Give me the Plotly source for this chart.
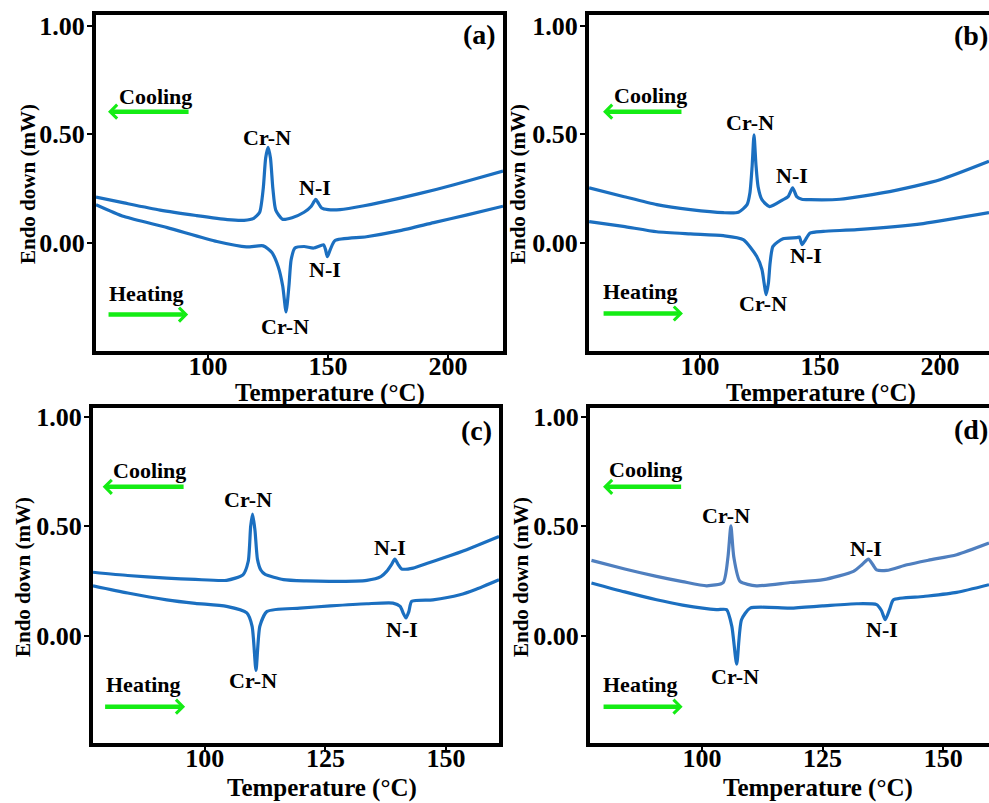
import plotly.graph_objects as go

# ---------------- data (Temperature in °C, heat flow in mW) ----------------
a_cool_T = [53.3, 65, 80, 95, 108, 115, 119, 121.5, 123.0, 124.0, 125.0, 126.0, 127.0, 128.2, 131, 135, 140, 143, 144.2, 144.9, 145.8, 147.3, 150, 155, 165, 180, 195, 210, 222.9]
a_cool_v = [0.21, 0.183, 0.15, 0.125, 0.106, 0.103, 0.112, 0.14, 0.25, 0.39, 0.44, 0.39, 0.25, 0.15, 0.108, 0.115, 0.14, 0.168, 0.19, 0.20, 0.185, 0.16, 0.152, 0.152, 0.17, 0.205, 0.245, 0.29, 0.33]
a_heat_T = [53.3, 65, 83, 103.7, 116, 123, 126.6, 129.2, 131.1, 132.5, 133.7, 134.6, 136.2, 140, 144, 148.1, 148.9, 149.7, 151.0, 152.9, 166, 180, 194, 208, 222.9]
a_heat_v = [0.175, 0.12, 0.069, 0.005, -0.02, -0.015, -0.046, -0.11, -0.2, -0.32, -0.2, -0.08, -0.025, -0.018, -0.025, -0.01, -0.03, -0.065, -0.03, 0.01, 0.027, 0.055, 0.092, 0.128, 0.168]

b_cool_T = [53.8, 68, 82, 96, 109.7, 116, 119.6, 120.8, 121.7, 122.5, 123.3, 124.2, 125.8, 129, 134.6, 136.7, 138.6, 140.3, 142.4, 145.8, 158.3, 179, 200, 220.4]
b_cool_v = [0.253, 0.213, 0.175, 0.152, 0.138, 0.14, 0.175, 0.23, 0.35, 0.497, 0.36, 0.258, 0.198, 0.166, 0.198, 0.212, 0.253, 0.212, 0.2, 0.198, 0.2, 0.235, 0.29, 0.375]
b_heat_T = [53.8, 68, 82, 96, 109.7, 118, 123.6, 125.8, 126.7, 127.5, 128.5, 129.2, 130.4, 134.6, 140.4, 141.4, 142.5, 143.8, 145.8, 151.4, 165.4, 193, 220.4]
b_heat_v = [0.097, 0.075, 0.05, 0.04, 0.032, 0.014, -0.063, -0.124, -0.186, -0.24, -0.186, -0.094, -0.017, 0.018, 0.023, 0.026, -0.009, 0.011, 0.044, 0.052, 0.06, 0.088, 0.138]

c_cool_T = [76.8, 84, 92.1, 98, 104.5, 107.9, 109.0, 109.5, 109.9, 110.4, 110.9, 111.6, 112.5, 116.3, 121, 126.6, 133.6, 136.5, 137.7, 138.7, 139.4, 140.1, 140.8, 143.2, 146, 149.4, 154.3, 161]
c_cool_v = [0.29, 0.275, 0.263, 0.257, 0.253, 0.278, 0.34, 0.5, 0.555, 0.48, 0.35, 0.3, 0.28, 0.256, 0.25, 0.248, 0.253, 0.27, 0.294, 0.325, 0.35, 0.325, 0.305, 0.309, 0.33, 0.355, 0.393, 0.453]
c_heat_T = [76.8, 84, 92.1, 98, 104.5, 108.7, 109.8, 110.6, 111.4, 112.9, 119.7, 126, 133.6, 139, 140.5, 141.2, 141.7, 142.3, 142.9, 147.3, 152.9, 156, 161]
c_heat_v = [0.228, 0.195, 0.164, 0.148, 0.134, 0.104, 0.043, -0.158, 0.043, 0.111, 0.126, 0.136, 0.146, 0.149, 0.134, 0.1, 0.081, 0.11, 0.157, 0.164, 0.187, 0.21, 0.256]

d_cool_T = [77.1, 84, 90.6, 96, 101, 104.4, 105.4, 106.0, 106.6, 107.9, 111.3, 118.3, 125.2, 131.4, 133.2, 134.5, 135.4, 136.2, 138.3, 142.5, 147, 152.8, 159.5]
d_cool_v = [0.344, 0.305, 0.271, 0.247, 0.228, 0.243, 0.36, 0.502, 0.36, 0.248, 0.228, 0.243, 0.256, 0.294, 0.325, 0.35, 0.325, 0.301, 0.298, 0.324, 0.345, 0.37, 0.423]
d_heat_T = [77.1, 84, 90.6, 96, 103, 105.1, 106.2, 107.2, 108.2, 110, 118.3, 125, 132.1, 136.2, 137.2, 138, 138.9, 139.7, 145.9, 152.8, 159.5]
d_heat_v = [0.241, 0.2, 0.164, 0.14, 0.119, 0.119, 0.043, -0.13, 0.073, 0.126, 0.126, 0.136, 0.146, 0.142, 0.115, 0.073, 0.12, 0.164, 0.179, 0.198, 0.233]

y_ticks = [0.0, 0.5, 1.0]
y_tick_labels = ["0.00", "0.50", "1.00"]
x_ticks_top = [100, 150, 200]
x_ticks_bottom = [100, 125, 150]
panel_labels = ["(a)", "(b)", "(c)", "(d)"]

# ---------------- styling ----------------
W, H = 989, 803
BLUE = "#1b6fc0"
BLUE_LIGHT = "#4f7fbf"
GREEN = "#14ec14"
FONT = "Liberation Serif, Times New Roman, serif"

def px_x(p):
    return p / W

def px_y(p):
    return 1 - p / H

panels = [
    dict(xd=(96, 503), yd=(15, 351), xr=(53.3, 222.9), yr=(-0.5, 1.05), right=True, xt=x_ticks_top),
    dict(xd=(589, 989), yd=(15, 351), xr=(53.75, 220.4), yr=(-0.5, 1.05), right=False, xt=x_ticks_top),
    dict(xd=(93, 499), yd=(408, 743), xr=(76.8, 161.0), yr=(-0.49, 1.04), right=True, xt=x_ticks_bottom),
    dict(xd=(590, 989), yd=(408, 743), xr=(76.8, 159.5), yr=(-0.49, 1.04), right=False, xt=x_ticks_bottom),
]

series = [
    (a_cool_T, a_cool_v, a_heat_T, a_heat_v, BLUE),
    (b_cool_T, b_cool_v, b_heat_T, b_heat_v, BLUE),
    (c_cool_T, c_cool_v, c_heat_T, c_heat_v, BLUE),
    (d_cool_T, d_cool_v, d_heat_T, d_heat_v, BLUE_LIGHT),
]

fig = go.Figure()
layout = dict(
    width=W, height=H, margin=dict(l=0, r=0, t=0, b=0),
    template="none", paper_bgcolor="white", plot_bgcolor="white",
    showlegend=False,
)

for i, (p, s) in enumerate(zip(panels, series)):
    n = "" if i == 0 else str(i + 1)
    xa, ya = "x" + n, "y" + n
    cT, cv, hT, hv, ccol = s
    fig.add_trace(go.Scatter(x=cT, y=cv, mode="lines", xaxis=xa, yaxis=ya,
                             line=dict(color=ccol, width=3.2, shape="spline", smoothing=0.6)))
    fig.add_trace(go.Scatter(x=hT, y=hv, mode="lines", xaxis=xa, yaxis=ya,
                             line=dict(color=BLUE, width=3.2, shape="spline", smoothing=0.6)))
    layout["xaxis" + n] = dict(
        domain=[px_x(p["xd"][0]), px_x(p["xd"][1])], range=list(p["xr"]), anchor=ya,
        showline=True, linecolor="black", linewidth=4, mirror=True,
        ticks="outside", ticklen=5, tickwidth=1.5, tickcolor="black",
        tickvals=p["xt"], ticktext=[str(v) for v in p["xt"]],
        tickfont=dict(family=FONT, size=26, color="black", weight="bold"),
        ticklabelstandoff=-16,
        showgrid=False, zeroline=False, automargin=False,
    )
    layout["yaxis" + n] = dict(
        domain=[px_y(p["yd"][1]), px_y(p["yd"][0])], range=list(p["yr"]), anchor=xa,
        showline=True, linecolor="black", linewidth=4, mirror=p["right"],
        ticks="outside", ticklen=5, tickwidth=1.5, tickcolor="black",
        tickvals=y_ticks, ticktext=y_tick_labels,
        tickfont=dict(family=FONT, size=26, color="black", weight="bold"),
        ticklabelstandoff=-3,
        showgrid=False, zeroline=False, automargin=False,
    )

fig.update_layout(**layout)

ann = []
def txt(xref, yref, x, y, text, size=22, angle=0):
    ann.append(dict(xref=xref, yref=yref, x=x, y=y, text=text, showarrow=False,
                    textangle=angle, xanchor="center", yanchor="middle",
                    font=dict(family=FONT, size=size, color="black", weight="bold")))

def arrow(xref, yref, x_tail, x_head, y):
    ann.append(dict(xref=xref, yref=yref, axref=xref, ayref=yref,
                    x=x_head, y=y, ax=x_tail, ay=y, text="", showarrow=True,
                    arrowhead=4, arrowsize=0.6, arrowwidth=4.5, arrowcolor=GREEN))

labels = [
    dict(cool=(77.9, 0.673), carrow=(92.5, 58.3, 0.604), heat=(74.2, -0.235), harrow=(57.9, 91.7, -0.332),
         crn_top=(124.6, 0.484), ni_top=(144.6, 0.253), ni_bot=(148.8, -0.124), crn_bot=(132.0, -0.387)),
    dict(cool=(79.2, 0.677), carrow=(92.9, 59.6, 0.604), heat=(75.0, -0.226), harrow=(59.2, 92.9, -0.327),
         crn_top=(120.8, 0.553), ni_top=(138.3, 0.309), ni_bot=(144.2, -0.06), crn_bot=(126.2, -0.281)),
    dict(cool=(88.6, 0.753), carrow=(95.9, 78.8, 0.68), heat=(87.3, -0.224), harrow=(79.0, 95.9, -0.324),
         crn_top=(108.9, 0.621), ni_top=(138.4, 0.402), ni_bot=(140.9, 0.027), crn_bot=(110.0, -0.205)),
    dict(cool=(88.2, 0.758), carrow=(96.0, 79.5, 0.68), heat=(87.3, -0.224), harrow=(79.3, 96.0, -0.324),
         crn_top=(105.0, 0.548), ni_top=(134.0, 0.397), ni_bot=(137.3, 0.027), crn_bot=(106.8, -0.187)),
]

for i, L in enumerate(labels):
    n = "" if i == 0 else str(i + 1)
    xr, yr = "x" + n, "y" + n
    txt(xr, yr, *L["cool"], "Cooling")
    arrow(xr, yr, *L["carrow"])
    txt(xr, yr, *L["heat"], "Heating")
    arrow(xr, yr, *L["harrow"])
    txt(xr, yr, *L["crn_top"], "Cr-N")
    txt(xr, yr, *L["ni_top"], "N-I")
    txt(xr, yr, *L["ni_bot"], "N-I")
    txt(xr, yr, *L["crn_bot"], "Cr-N")

letter_pos = [(479, 35), (971, 36), (476, 430), (971, 429)]
for (lx, ly), t in zip(letter_pos, panel_labels):
    txt("paper", "paper", px_x(lx), px_y(ly), t, size=28)

xtitle_pos = [(330, 393), (821, 393), (322, 788), (818, 788)]
for (tx, ty) in xtitle_pos:
    txt("paper", "paper", px_x(tx), px_y(ty), "Temperature (°C)", size=25)

ytitle_pos = [(28, 184), (518, 184), (23, 577), (521, 577)]
for (tx, ty) in ytitle_pos:
    txt("paper", "paper", px_x(tx), px_y(ty), "Endo down (mW)", size=21, angle=-90)

fig.update_layout(annotations=ann)
fig.write_html("out.html", config={"displayModeBar": False},
               post_script="document.body.style.margin='0px';document.body.style.overflow='hidden';")
